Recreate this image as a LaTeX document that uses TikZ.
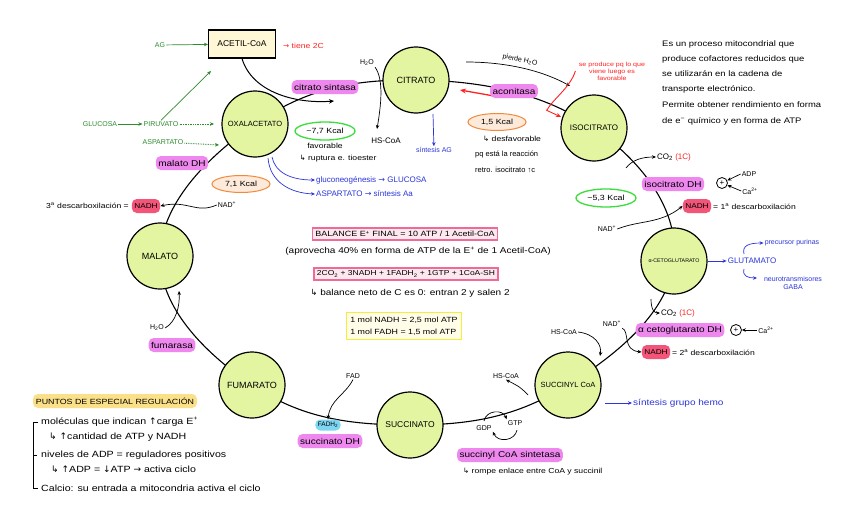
\documentclass[tikz,border=0pt]{standalone}
\usepackage{fontspec}
\setmainfont{Liberation Sans}
\newfontfamily\wf{Liberation Sans}[FakeStretch=1.18]
\newfontfamily\symf{DejaVu Sans}
\usetikzlibrary{arrows.meta,shapes.geometric}
\definecolor{cfill}{HTML}{E4F5A1}
\definecolor{accfill}{HTML}{FFF7D6}
\definecolor{pmag}{HTML}{EE88EE}
\definecolor{pred}{HTML}{F25577}
\definecolor{pcyan}{HTML}{7DD6F2}
\definecolor{pyel}{HTML}{FBE08A}
\definecolor{gtxt}{HTML}{2E8B2E}
\definecolor{btxt}{HTML}{2B35D8}
\definecolor{rtxt}{HTML}{FF2222}
\definecolor{obrd}{HTML}{F08A3C}
\definecolor{ofill}{HTML}{FDEADB}
\definecolor{gbrd}{HTML}{3CDD3C}
\definecolor{boxpink}{HTML}{F06A96}
\definecolor{boxpinkfill}{HTML}{FDE8EF}
\definecolor{boxyel}{HTML}{F2EE3A}
\definecolor{boxyelfill}{HTML}{FFFDE8}
\newcommand{\sy}[1]{{\symf #1}}
\tikzset{
 met/.style={circle,draw,line width=1.2pt,fill=cfill,minimum size=66pt,inner sep=0pt,font=\fontsize{9}{10}\selectfont},
 pill/.style={rounded corners=5pt,fill=pmag,inner sep=2.5pt,minimum height=14pt,font=\wf\fontsize{8.5}{9}\selectfont},
 redpill/.style={pill,fill=pred,font=\wf\fontsize{7}{8}\selectfont},
 note/.style={font=\wf\fontsize{8.5}{9}\selectfont,inner sep=1pt},
 small/.style={font=\wf\fontsize{7.3}{8}\selectfont,inner sep=1pt},
 lab/.style={font=\fontsize{7}{8}\selectfont,inner sep=1pt},
 arr/.style={-{Stealth[length=4pt,width=3.5pt]},line width=0.7pt},
 kcalo/.style={ellipse,draw=obrd,fill=ofill,line width=1pt,font=\wf\fontsize{7.5}{8}\selectfont,inner sep=0pt,minimum width=58pt,minimum height=17pt},
 kcalg/.style={ellipse,draw=gbrd,fill=white,line width=1.3pt,font=\wf\fontsize{7.5}{8}\selectfont,inner sep=0pt,minimum width=60pt,minimum height=18pt},
 plus/.style={circle,draw,line width=0.8pt,inner sep=0pt,minimum size=11pt,font=\fontsize{8}{8}\selectfont}
}
\begin{document}
\begin{tikzpicture}[x=1pt,y=-1pt]
\useasboundingbox (0,0) rectangle (848,530);
\fill[white] (0,0) rectangle (848,530);
% main cycle
\draw[line width=1.1pt] plot[smooth cycle,tension=0.7] coordinates {(416,80) (594,128) (674,261) (568,385) (410,425) (252,385) (160,256) (255,124)};
% acetyl-CoA entry
\node[draw,line width=1.1pt,fill=accfill,minimum width=67pt,minimum height=28pt,font=\fontsize{8.5}{9}\selectfont] (acc) at (242,44) {ACETIL-CoA};
\draw[line width=1pt,-{Stealth[length=5pt,width=4.5pt]}] (acc.south) .. controls (252,92) and (295,104) .. (334,101);
% red reverse arrow on the arc
\draw[rtxt,line width=1.3pt,-{Stealth[length=6pt,width=5pt]}] (494,96) -- (460,90);
% metabolites
\node[met] (cit) at (416,80) {CITRATO};
\node[met,font=\fontsize{8}{9}\selectfont] (iso) at (594,128) {ISOCITRATO};
\node[met,font=\fontsize{5.3}{6}\selectfont] (akg) at (674,261) {α-CETOGLUTARATO};
\node[met,font=\fontsize{7.5}{8}\selectfont] (sca) at (568,385) {SUCCINYL CoA};
\node[met,font=\fontsize{8.5}{9}\selectfont] (sucn) at (410,425) {SUCCINATO};
\node[met] (fum) at (252,385) {FUMARATO};
\node[met] (mal) at (160,256) {MALATO};
\node[met,font=\fontsize{7.5}{8}\selectfont] (oxa) at (255,124) {OXALACETATO};

% top-left green
\node[lab,text=gtxt] (ag) at (160,45) {AG};
\draw[arr,gtxt] (ag) -- (acc);
\node[small,text=rtxt,anchor=west] (t2c) at (282,46) {\sy{→} tiene 2C};
\node[lab,text=gtxt] (glc) at (100,124) {GLUCOSA};
\node[lab,text=gtxt] (pir) at (161,124) {PIRUVATO};
\node[lab,text=gtxt] (asp) at (163,142) {ASPARTATO};
\draw[arr,gtxt] (glc) -- (pir);
\draw[arr,gtxt,densely dotted,line width=1pt] (pir) -- (214,124);
\draw[arr,gtxt,densely dotted,line width=1pt] (asp) -- (219,145);
\draw[arr,gtxt] (pir.north) -- (211,71);
\node[pill] (cs) at (325,87) {citrato sintasa};

% H2O / HS-CoA at citrato
\node[lab] (h2o1) at (367,63) {H\textsubscript{2}O};
\node[lab,font=\fontsize{8}{9}\selectfont] (hs1) at (386,141) {HS-CoA};
\draw[arr] (h2o1.south east) .. controls (384,80) and (381,105) .. (377,129);
\node[kcalg] (kg77) at (325,131) {−7,7 Kcal};
\node[small] (fav) at (325,146) {favorable};
\node[small] (rup) at (338,159) {\sy{↳} ruptura e. tioester};
\node[lab,text=btxt] (sag) at (434,150) {síntesis AG};
\draw[arr,btxt] (433,114) -- (sag);

% blue from oxalacetato
\node[lab,font=\fontsize{8}{9}\selectfont,text=btxt,anchor=west] (gng) at (315,180) {gluconeogénesis \sy{→} GLUCOSA};
\node[lab,font=\fontsize{8}{9}\selectfont,text=btxt,anchor=west] (aspb) at (315,194) {ASPARTATO \sy{→} síntesis Aa};
\draw[arr,btxt] (272,157) .. controls (275,172) and (290,180) .. (gng.west);
\draw[arr,btxt] (268,158) .. controls (270,182) and (290,193) .. (aspb.west);

% aconitasa area
\node[lab,rotate=-12] (pier) at (520,60) {pierde H\textsubscript{2}O};
\draw[arr] (466,62) .. controls (510,62) and (545,72) .. (570,86);
\node[font=\wf\fontsize{6}{7}\selectfont,text=rtxt,align=center] (redt) at (612,71) {se produce pq lo que\\viene luego es\\favorable};
\draw[rtxt,line width=0.9pt] (redt.west) .. controls (570,88) and (552,100) .. (547,110);
\draw[rtxt,line width=0.9pt,-{Stealth[length=5pt,width=4.5pt]}] (546,110) -- (561,117);
\node[pill] (acon) at (514,91) {aconitasa};
\node[kcalo] (k15) at (497,122) {1,5 Kcal};
\node[small,anchor=west] (des1) at (482,139) {\sy{↳} desfavorable};
\node[lab,font=\fontsize{7.5}{8}\selectfont,anchor=west] (des2) at (474,155) {pq está la reacción};
\node[lab,font=\fontsize{7.5}{8}\selectfont,anchor=west] (des3) at (474,170) {retro. isocitrato ↑c};

% top-right paragraph
\begin{scope}[every node/.style={font=\wf\fontsize{8}{9}\selectfont,inner sep=1pt,anchor=west}]
\node (p1) at (661,44) {Es un proceso mitocondrial que};
\node (p2) at (661,59) {produce cofactores reducidos que};
\node (p3) at (661,74) {se utilizarán en la cadena de};
\node (p4) at (661,89) {transporte electrónico.};
\node (p5) at (661,105) {Permite obtener rendimiento en forma};
\node (p6) at (661,121) {de e\textsuperscript{−} químico y en forma de ATP};
\end{scope}

% oxalacetato / malato
\node[pill] (mdh) at (182,163) {malato DH};
\node[kcalo] (k71) at (241,184) {7,1 Kcal};
\node[lab] (nad1) at (227,205) {NAD\textsuperscript{+}};
\node[redpill] (nadh1) at (146,206) {NADH};
\node[small,anchor=east] (d3) at (130,206) {3\textsuperscript{a} descarboxilación =};
\draw[arr] (nad1.west) .. controls (196,214) and (188,200) .. (nadh1.east);

% isocitrato side
\node[lab,font=\fontsize{8}{9}\selectfont,anchor=west] (co2a) at (656,157) {CO\textsubscript{2} \textcolor{rtxt}{(1C)}};
\draw[arr] (626,168) .. controls (632,160) and (642,157) .. (co2a.west);
\node[pill] (idh) at (673,184) {isocitrato DH};
\node[plus] (pl1) at (722,183) {+};
\node[lab] (adp1) at (749,174) {ADP};
\node[lab] (ca1) at (750,191) {Ca\textsuperscript{2+}};
\draw[arr] (adp1.west) -- (pl1);
\draw[arr] (ca1.west) -- (pl1);
\node[kcalg] (k53) at (606,198) {−5,3 Kcal};
\node[redpill] (nadh2) at (697,206) {NADH};
\node[small,anchor=west] (d1) at (712,207) {= 1\textsuperscript{a} descarboxilación};
\node[lab] (nad2) at (607,229) {NAD\textsuperscript{+}};
\draw[arr] (nad2.east) .. controls (640,220) and (660,224) .. (nadh2.west);

% glutamato
\node[lab,font=\fontsize{8}{9}\selectfont,text=btxt] (glu) at (752,261) {GLUTAMATO};
\draw[arr,btxt] (akg) -- (glu);
\node[lab,text=btxt] (pur) at (792,243) {precursor purinas};
\node[lab,text=btxt,align=center] (gaba) at (793,283) {neurotransmisores\\GABA};
\draw[arr,btxt] (744,254) .. controls (742,246) and (748,243) .. (pur.west);
\draw[arr,btxt] (744,269) .. controls (742,276) and (748,278) .. (757,278);

% alpha-KG DH side
\node[lab,font=\fontsize{8}{9}\selectfont,anchor=west] (co2b) at (660,313) {CO\textsubscript{2} \textcolor{rtxt}{(1C)}};
\draw[arr] (651,299) .. controls (651,309) and (654,313) .. (co2b.west);
\node[pill] (akgdh) at (680,330) {α cetoglutarato DH};
\node[plus] (pl2) at (736,330) {+};
\node[lab] (ca2) at (766,330) {Ca\textsuperscript{2+}};
\draw[arr] (ca2.west) -- (pl2);
\node[redpill] (nadh3) at (656,352) {NADH};
\node[small,anchor=west] (d2) at (671,353) {= 2\textsuperscript{a} descarboxilación};
\node[lab] (nad3) at (612,324) {NAD\textsuperscript{+}};
\node[lab] (hs2) at (564,332) {HS-CoA};
\draw[arr] (nad3.south east) .. controls (630,332) and (622,350) .. (nadh3.west);
\draw[arr] (hs2.east) .. controls (595,334) and (602,345) .. (600,356);

% succinyl CoA
\node[note,text=btxt,anchor=west] (hemo) at (632,403) {síntesis grupo hemo};
\draw[arr,btxt] (605,403) -- (hemo.west);
\node[lab] (hs3) at (506,376) {HS-CoA};
\draw[arr] (528,395) .. controls (520,386) and (514,384) .. (hs3.south);
\node[lab] (gdp) at (484,428) {GDP};
\node[lab] (gtp) at (515,423) {GTP};
\draw[arr] (484,421) .. controls (486,410) and (503,409) .. (gtp.north west);
\draw[arr] (517,430) .. controls (515,441) and (498,443) .. (gdp.south east);
\node[pill] (scs) at (510,455) {succinyl CoA sintetasa};
\node[small,anchor=west] (romp) at (462,472) {\sy{↳} rompe enlace entre CoA y succinil};

% succinato DH
\node[lab] (fad) at (353,376) {FAD};
\node[pill,fill=pcyan,font=\fontsize{6.5}{7}\selectfont,minimum height=11pt] (fadh) at (328,425) {FADH\textsubscript{2}};
\node[pill] (sdh) at (330,441) {succinato DH};
\draw[arr] (fad.south) .. controls (345,395) and (330,400) .. (fadh.north);

% fumarasa
\node[lab] (h2o2) at (157,328) {H\textsubscript{2}O};
\node[pill] (fumr) at (172,345) {fumarasa};
\draw[arr] (h2o2.east) .. controls (176,322) and (180,306) .. (179,291);

% centre boxes
\node[draw=boxpink,fill=boxpinkfill,line width=1.2pt,inner sep=3pt,font=\wf\fontsize{7.6}{8}\selectfont] (bal) at (405,234) {BALANCE E\textsuperscript{+} FINAL = 10 ATP / 1 Acetil-CoA};
\node[note] (apr) at (418,251) {(aprovecha 40\% en forma de ATP de la E\textsuperscript{+} de 1 Acetil-CoA)};
\node[draw=boxpink,fill=boxpinkfill,line width=1.2pt,inner sep=3pt,font=\wf\fontsize{7.2}{8}\selectfont] (bal2) at (406,274) {2CO\textsubscript{2} + 3NADH + 1FADH\textsubscript{2} + 1GTP + 1CoA-SH};
\node[note] (neto) at (410,293) {\sy{↳} balance neto de C es 0: entran 2 y salen 2};
\node[draw=boxyel,fill=boxyelfill,line width=1.2pt,inner sep=4pt,align=left,font=\wf\fontsize{7.5}{12}\selectfont] (yel) at (404,326) {1 mol NADH = 2,5 mol ATP\\1 mol FADH = 1,5 mol ATP};

% regulation
\node[pill,fill=pyel,font=\wf\fontsize{7.5}{8}\selectfont,minimum width=164pt] (pts) at (115,401) {PUNTOS DE ESPECIAL REGULACIÓN};
\draw[line width=0.7pt] (38,422) -- (33,422) -- (33,488) -- (38,488);
\draw[line width=0.7pt] (33,455) -- (37,455);
\begin{scope}[every node/.style={font=\wf\fontsize{9}{10}\selectfont,inner sep=1pt,anchor=west}]
\node (r1) at (40,422) {moléculas que indican \sy{↑}carga E\textsuperscript{+}};
\node (r2) at (48,437) {\sy{↳} \sy{↑}cantidad de ATP y NADH};
\node (r3) at (40,455) {niveles de ADP = reguladores positivos};
\node (r4) at (50,469) {\sy{↳} \sy{↑}ADP = \sy{↓}ATP \sy{→} activa ciclo};
\node (r5) at (40,488) {Calcio: su entrada a mitocondria activa el ciclo};
\end{scope}
\end{tikzpicture}
\end{document}
